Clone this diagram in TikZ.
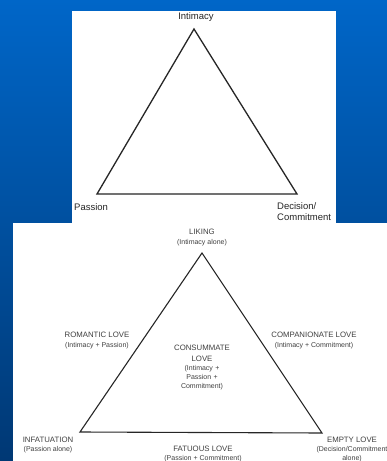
\documentclass[tikz,border=0pt]{standalone}
\usepackage{fontspec}
\setmainfont{Liberation Sans}
\usepackage{tikz}

\definecolor{slidetop}{RGB}{0,102,200}
\definecolor{slidebot}{RGB}{0,56,116}

\begin{document}
\begin{tikzpicture}[x=1pt,y=-1pt,
  corner/.style={font=\fontsize{9.5}{11}\selectfont,text=black!85,inner sep=0pt},
  kind/.style={font=\fontsize{7.8}{11}\selectfont,text=black!75,inner sep=0pt,align=center},
  note/.style={font=\fontsize{7}{9}\selectfont,text=black!75,inner sep=0pt,align=center},
  side/.style={line width=1.3pt,black!85,line join=miter}]
\useasboundingbox (0,0) rectangle (387,461);
\shade[top color=slidetop,bottom color=slidebot] (0,0) rectangle (387,461);
\fill[white] (72,11) rectangle (336,224);
\fill[white] (13,223) rectangle (387,461);
% upper triangle
\coordinate (i) at (194,29);
\coordinate (p) at (97,194);
\coordinate (d) at (297,194);
\draw[side] (i) -- (p) -- (d) -- cycle;
\node[corner] (int) at (196,17) {Intimacy};
\node[corner,anchor=west] (pas) at (74,207) {Passion};
\node[corner,anchor=north west,align=left] (dec) at (277,202) {Decision/\\Commitment};
% lower triangle
\coordinate (l) at (202,253);
\coordinate (f) at (80,432);
\coordinate (e) at (322,433);
\draw[side,line width=1.1pt] (l) -- (f) -- (e) -- cycle;
\node[kind] (lik) at (202,232) {LIKING};
\node[note] (likn) at (202,243) {(Intimacy alone)};
\node[kind] (rom) at (97,335) {ROMANTIC LOVE};
\node[note] (romn) at (97,345.5) {(Intimacy + Passion)};
\node[kind] (com) at (314,335) {COMPANIONATE LOVE};
\node[note] (comn) at (314,345.5) {(Intimacy + Commitment)};
\node[kind] (con) at (202,353.5) {CONSUMMATE\\LOVE};
\node[note,text width=60pt] (conn) at (202,378) {(Intimacy +\\Passion +\\Commitment)};
\node[kind] (inf) at (48,440) {INFATUATION};
\node[note] (infn) at (48,450) {(Passion alone)};
\node[kind] (fat) at (203,449) {FATUOUS LOVE};
\node[note] (fatn) at (203,459) {(Passion + Commitment)};
\node[kind] (emp) at (352,440) {EMPTY LOVE};
\node[note] (empn) at (352,454.5) {(Decision/Commitment\\alone)};
\end{tikzpicture}
\end{document}
